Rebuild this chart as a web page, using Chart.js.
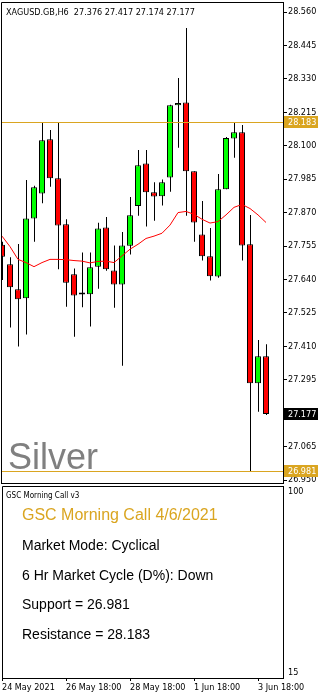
<!DOCTYPE html>
<html><head><meta charset="utf-8">
<script src="https://cdn.jsdelivr.net/npm/chart.js@4.4.0/dist/chart.umd.min.js"></script>
<style>
html,body{margin:0;padding:0;background:#fff;width:321px;height:698px;overflow:hidden}
canvas{position:absolute;left:0;display:block}
#main{top:0}
#sub{top:486px}
</style></head><body>
<canvas id="main" width="321" height="486"></canvas>
<canvas id="sub" width="321" height="212"></canvas>
<script>
// ---------- data ----------
const symbol = "XAGUSD.GB,H6";
const categories = [
  "24 May 18:00","25 May 00:00","25 May 06:00","25 May 12:00","25 May 18:00",
  "26 May 00:00","26 May 06:00","26 May 12:00","26 May 18:00",
  "27 May 00:00","27 May 06:00","27 May 12:00","27 May 18:00",
  "28 May 00:00","28 May 06:00","28 May 12:00","28 May 18:00",
  "31 May 00:00","31 May 06:00","31 May 12:00","31 May 18:00",
  "1 Jun 00:00","1 Jun 06:00","1 Jun 12:00","1 Jun 18:00",
  "2 Jun 00:00","2 Jun 06:00","2 Jun 12:00","2 Jun 18:00",
  "3 Jun 00:00","3 Jun 06:00","3 Jun 12:00","3 Jun 18:00","4 Jun 00:00"
];
const opens  = [27.759,27.692,27.606,27.575,27.850,27.936,28.122,27.988,27.830,27.658,27.588,27.589,27.684,27.819,27.671,27.623,27.756,27.893,28.039,27.940,27.926,27.991,28.239,28.249,28.012,27.795,27.720,27.650,27.950,28.125,28.146,27.761,27.283,27.376];
const highs  = [27.770,27.716,27.762,27.982,27.962,28.180,28.154,28.180,27.847,27.678,27.733,27.733,27.835,27.855,27.757,27.803,27.924,28.085,28.085,27.974,27.984,28.241,28.333,28.505,28.012,27.910,27.817,28.003,28.130,28.180,28.171,27.862,27.432,27.417];
const lows   = [27.638,27.475,27.409,27.451,27.770,27.902,27.959,27.675,27.546,27.443,27.544,27.478,27.608,27.670,27.543,27.343,27.726,27.859,27.822,27.842,27.894,27.942,28.093,27.859,27.770,27.705,27.636,27.646,27.950,28.059,27.705,26.981,27.185,27.174];
const closes = [27.718,27.613,27.572,27.850,27.957,28.119,27.988,27.826,27.629,27.585,27.588,27.682,27.815,27.675,27.623,27.757,27.861,28.033,27.940,27.925,27.974,28.239,28.247,28.012,27.836,27.720,27.651,27.950,28.127,28.146,27.757,27.283,27.376,27.177];
const maValues = [27.789,27.753,27.709,27.698,27.684,27.698,27.709,27.709,27.708,27.705,27.703,27.697,27.702,27.703,27.698,27.721,27.744,27.761,27.781,27.789,27.799,27.827,27.870,27.874,27.864,27.847,27.834,27.839,27.862,27.888,27.898,27.884,27.862,27.836];
const priceTicks = [28.560,28.445,28.330,28.215,28.100,27.985,27.870,27.755,27.640,27.525,27.410,27.295,27.065,26.950];
const timeTickIndex = [0,8,16,24,32];
const timeTickLabels = ["24 May 2021","26 May 18:00","28 May 18:00","1 Jun 18:00","3 Jun 18:00"];
const support = 26.981;
const resistance = 28.183;
const subTicks = [100,15];
const subTickLabels = ["100","15"];
const instrumentName = "Silver";
const panelTitle = "GSC Morning Call v3";
const reportTitle = "GSC Morning Call 4/6/2021";
const reportLines = ["Market Mode: Cyclical","6 Hr Market Cycle (D%): Down","Support = 26.981","Resistance = 28.183"];

// ---------- styles ----------
const AX_FONT = "'DejaVu Sans Condensed', 'DejaVu Sans', sans-serif";
const TXT_FONT = "'Liberation Sans', Arial, sans-serif";
const GOLD = "#DAA520";
const UP = "#00FF00", DOWN = "#FF0000";

const lastClose = closes[closes.length-1];
const n = categories.length;
const wickData = categories.map((c,i)=>({x:i, y:[lows[i], highs[i]]}));
const bodyData = categories.map((c,i)=>({x:i, y:[opens[i], closes[i]]}));
const bodyColors = categories.map((c,i)=> closes[i] >= opens[i] ? UP : DOWN);
const maData = categories.map((c,i)=>({x:i, y:maValues[i]}));

const mainPlugin = {
  id:'mainDeco',
  afterDatasetsDraw(chart){
    const {ctx, chartArea:a, scales:{y}} = chart;
    ctx.save();
    ctx.strokeStyle = GOLD; ctx.lineWidth = 1;
    [resistance, support].forEach(v=>{
      const py = Math.round(y.getPixelForValue(v)) + 0.5;
      ctx.beginPath(); ctx.moveTo(a.left, py); ctx.lineTo(a.right, py); ctx.stroke();
    });
    ctx.fillStyle = '#808080';
    ctx.font = "36px " + TXT_FONT;
    ctx.textBaseline = 'alphabetic'; ctx.textAlign = 'left';
    ctx.fillText(instrumentName, 8, 469);
    ctx.restore();
  },
  afterDraw(chart){
    const {ctx, chartArea:a, scales:{y}} = chart;
    ctx.save();
    ctx.strokeStyle = '#000'; ctx.lineWidth = 1;
    ctx.beginPath();
    ctx.moveTo(a.left + 0.5, a.bottom + 0.5);
    ctx.lineTo(a.left + 0.5, a.top + 0.5);
    ctx.lineTo(a.right, a.top + 0.5);
    ctx.moveTo(a.left, a.bottom + 0.5);
    ctx.lineTo(a.right, a.bottom + 0.5);
    ctx.stroke();
    ctx.fillStyle = '#000';
    ctx.font = "9px " + AX_FONT;
    ctx.textBaseline = 'alphabetic'; ctx.textAlign = 'left';
    const i = n - 1;
    ctx.fillText(symbol + "  " + opens[i].toFixed(3) + " " + highs[i].toFixed(3) + " " + lows[i].toFixed(3) + " " + closes[i].toFixed(3), 6, 15);
    const box = (v, bg, fg) => {
      const py = Math.round(y.getPixelForValue(v));
      ctx.fillStyle = bg;
      ctx.fillRect(a.right + 1, py - 6, 34, 12);
      ctx.fillStyle = fg;
      ctx.textBaseline = 'middle';
      ctx.fillText(v.toFixed(3), a.right + 5, py + 0.5);
    };
    box(resistance, GOLD, '#fff');
    box(lastClose, '#000', '#fff');
    box(support, GOLD, '#fff');
    ctx.restore();
  }
};

new Chart(document.getElementById('main'), {
  type:'bar',
  data:{
    datasets:[
      { type:'line', label:'MA', data:maData, xAxisID:'x', borderColor:DOWN, borderWidth:1, pointRadius:0, tension:0, order:-1 },
      { label:'body', data:bodyData, xAxisID:'x', backgroundColor:bodyColors, borderColor:'#000', borderWidth:1, borderSkipped:false, barThickness:6, grouped:false, minBarLength:2, inflateAmount:0, order:0 },
      { label:'wick', data:wickData, xAxisID:'xw', backgroundColor:'#000', borderWidth:0, barThickness:1, grouped:false, inflateAmount:0, order:1 }
    ]
  },
  options:{
    responsive:false, animation:false, devicePixelRatio:1,
    layout:{padding:{left:1, top:2, bottom:3, right:0}},
    plugins:{legend:{display:false}, tooltip:{enabled:false}},
    scales:{
      x:{ type:'linear', display:false, offset:false, bounds:'data', min:-0.125, max:35.125, grid:{offset:false} },
      xw:{ type:'linear', display:false, offset:false, bounds:'data', min:-0.1875, max:35.0625, grid:{offset:false} },
      y:{
        type:'linear', position:'right', min:26.9398, max:28.5944,
        afterBuildTicks(s){ s.ticks = priceTicks.map(v=>({value:v})); },
        afterFit(s){ s.width = 38; s.paddingTop = 0; s.paddingBottom = 0; },
        ticks:{ font:{family:AX_FONT, size:9}, color:'#000', padding:1, autoSkip:false,
                callback:(v)=>Number(v).toFixed(3) },
        grid:{ drawOnChartArea:false, drawTicks:true, tickLength:4, tickColor:'#000', color:'#000' },
        border:{ display:true, color:'#000', width:1 }
      }
    }
  },
  plugins:[mainPlugin]
});

const subPlugin = {
  id:'subDeco',
  afterDraw(chart){
    const {ctx, chartArea:a} = chart;
    ctx.save();
    ctx.strokeStyle = '#000'; ctx.lineWidth = 1;
    ctx.beginPath();
    ctx.moveTo(a.left + 0.5, a.bottom);
    ctx.lineTo(a.left + 0.5, a.top + 0.5);
    ctx.lineTo(a.right, a.top + 0.5);
    ctx.stroke();
    ctx.textAlign = 'left'; ctx.textBaseline = 'alphabetic';
    ctx.fillStyle = '#000';
    ctx.font = "8px " + AX_FONT;
    ctx.fillText(panelTitle, 6, 12);
    ctx.fillStyle = GOLD;
    ctx.font = "16px " + TXT_FONT;
    ctx.fillText(reportTitle, 22, 34);
    ctx.fillStyle = '#000';
    ctx.font = "14px " + TXT_FONT;
    reportLines.forEach((t,k)=> ctx.fillText(t, 22, 64 + k*29.6));
    ctx.restore();
  }
};

new Chart(document.getElementById('sub'), {
  type:'line',
  data:{ datasets:[] },
  options:{
    responsive:false, animation:false, devicePixelRatio:1,
    layout:{padding:{left:2, top:0, bottom:0, right:0}},
    plugins:{legend:{display:false}, tooltip:{enabled:false}},
    scales:{
      x:{
        type:'linear', position:'bottom', min:0, max:35.125, offset:false,
        afterBuildTicks(s){ s.ticks = timeTickIndex.map(v=>({value:v})); },
        afterFit(s){ s.height = 20; s.paddingLeft = 0; s.paddingRight = 0; },
        ticks:{ font:{family:AX_FONT, size:9}, color:'#000', align:'start', padding:1, autoSkip:false, maxRotation:0, minRotation:0,
                callback:(v)=>{ const k = timeTickIndex.indexOf(v); return k>=0 ? timeTickLabels[k] : ''; } },
        grid:{ drawOnChartArea:false, drawTicks:true, tickLength:3, tickColor:'#000', color:'#000' },
        border:{ display:true, color:'#000', width:1 }
      },
      y:{
        type:'linear', position:'right', min:12.51, max:102.82,
        afterBuildTicks(s){ s.ticks = subTicks.map(v=>({value:v})); },
        afterFit(s){ s.width = 38; s.paddingTop = 0; s.paddingBottom = 0; },
        ticks:{ font:{family:AX_FONT, size:9}, color:'#000', padding:5, autoSkip:false,
                callback:(v)=>{ const k = subTicks.indexOf(v); return k>=0 ? subTickLabels[k] : ''; } },
        grid:{ drawOnChartArea:false, drawTicks:false },
        border:{ display:true, color:'#000', width:1 }
      }
    }
  },
  plugins:[subPlugin]
});
</script>
</body></html>
